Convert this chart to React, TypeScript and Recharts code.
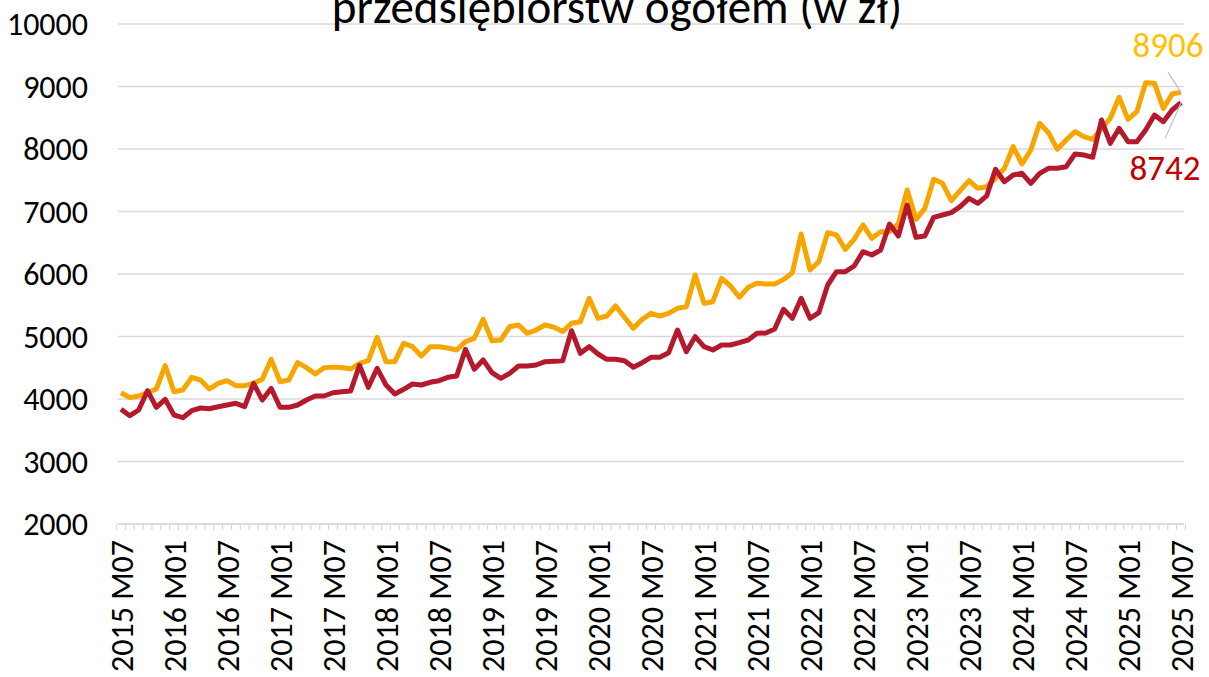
import React from 'react';
import { LineChart, Line, XAxis, YAxis, CartesianGrid, LabelList } from 'recharts';

const years = [2015, 2016, 2017, 2018, 2019, 2020, 2021, 2022, 2023, 2024, 2025];
const monthCodes = ['M01', 'M02', 'M03', 'M04', 'M05', 'M06', 'M07', 'M08', 'M09', 'M10', 'M11', 'M12'];

const categories: string[] = [];
years.forEach((yr) => {
  monthCodes.forEach((m, mi) => {
    const idx = (yr - 2015) * 12 + mi;
    if (idx >= 6 && idx <= 126) categories.push(`${yr} ${m}`);
  });
});

const tickLabels = [
  '2015 M07', '2016 M01', '2016 M07', '2017 M01', '2017 M07', '2018 M01', '2018 M07',
  '2019 M01', '2019 M07', '2020 M01', '2020 M07', '2021 M01', '2021 M07', '2022 M01',
  '2022 M07', '2023 M01', '2023 M07', '2024 M01', '2024 M07', '2025 M01', '2025 M07',
];

const yTicks = [2000, 3000, 4000, 5000, 6000, 7000, 8000, 9000, 10000];

const sectorTotal = [
  4100, 4021, 4048, 4101, 4160, 4535, 4117, 4144, 4347, 4304, 4160, 4251,
  4293, 4213, 4213, 4251, 4315, 4635, 4277, 4304, 4581, 4501, 4400, 4501,
  4510, 4505, 4480, 4571, 4613, 4987, 4597, 4597, 4891, 4837, 4688, 4837,
  4837, 4816, 4784, 4917, 4971, 5275, 4933, 4944, 5157, 5184, 5051, 5104,
  5184, 5150, 5080, 5211, 5237, 5611, 5291, 5328, 5488, 5307, 5131, 5275,
  5371, 5328, 5371, 5451, 5477, 5984, 5531, 5557, 5931, 5808, 5627, 5787,
  5851, 5840, 5840, 5910, 6021, 6640, 6064, 6197, 6661, 6624, 6395, 6555,
  6784, 6571, 6677, 6677, 6800, 7344, 6875, 7051, 7515, 7451, 7173, 7333,
  7493, 7371, 7397, 7531, 7690, 8037, 7760, 7984, 8411, 8261, 7995, 8144,
  8277, 8197, 8155, 8331, 8491, 8827, 8475, 8597, 9061, 9051, 8651, 8880,
  8906,
];

const sectorOther = [
  3835, 3733, 3824, 4133, 3867, 3995, 3744, 3701, 3813, 3856, 3845, 3877,
  3904, 3931, 3877, 4251, 3984, 4171, 3867, 3867, 3904, 3984, 4048, 4048,
  4100, 4117, 4128, 4540, 4187, 4491, 4224, 4080, 4155, 4240, 4224, 4267,
  4293, 4347, 4368, 4795, 4475, 4624, 4421, 4331, 4411, 4528, 4528, 4544,
  4597, 4605, 4610, 5093, 4731, 4837, 4720, 4635, 4635, 4613, 4507, 4581,
  4667, 4667, 4741, 5104, 4757, 4997, 4837, 4784, 4864, 4864, 4901, 4944,
  5051, 5056, 5120, 5435, 5291, 5611, 5291, 5381, 5824, 6037, 6037, 6128,
  6357, 6304, 6384, 6800, 6608, 7104, 6587, 6608, 6907, 6944, 6981, 7077,
  7211, 7131, 7250, 7675, 7477, 7584, 7611, 7451, 7611, 7691, 7691, 7717,
  7920, 7904, 7867, 8464, 8091, 8331, 8117, 8117, 8304, 8544, 8437, 8624,
  8742,
];

const data = categories.map((c, i) => ({ label: c, total: sectorTotal[i], other: sectorOther[i] }));

const FONT = 'Calibri, Carlito, Lato, sans-serif';
const ORANGE = '#F7A600';
const RED = '#B51A2C';
const HALF = 4.4;
const LAST = categories.length - 1;

function XTick(props: any) {
  const { x, y, payload, index } = props;
  const label = payload.value as string;
  const idx = payload.index ?? index;
  const show = tickLabels.includes(label);
  return (
    <g>
      <line x1={x - HALF} x2={x - HALF} y1={y} y2={y + 6} stroke="#d9d9d9" strokeWidth={1.2} />
      {idx === LAST && (
        <line x1={x + HALF} x2={x + HALF} y1={y} y2={y + 6} stroke="#d9d9d9" strokeWidth={1.2} />
      )}
      {show && (
        <text
          x={x}
          y={y + 16}
          dy="0.36em"
          transform={`rotate(-90, ${x}, ${y + 16})`}
          textAnchor="end"
          fontSize={32}
          fontFamily={FONT}
          fill="#000"
        >
          {label}
        </text>
      )}
    </g>
  );
}

function makeEndLabel(color: string, lineColor: string, dx: number, dy: number, lx: number, ly: number) {
  return (props: any) => {
    const { x, y, value, index } = props;
    if (index !== LAST) return null;
    return (
      <g>
        <line x1={x} y1={y} x2={x + lx} y2={y + ly} stroke={lineColor} strokeWidth={1.2} />
        <text x={x + dx} y={y + dy} textAnchor="middle" fontSize={35} fontFamily={FONT} fill={color}>
          {value}
        </text>
      </g>
    );
  };
}

export default function App() {
  return (
    <div style={{ position: 'absolute', left: 0, top: 0, width: 1209, height: 677, background: '#fff' }}>
      <LineChart
        width={1209}
        height={677}
        data={data}
        margin={{ top: 24, right: 25, left: 0, bottom: 0 }}
      >
        <CartesianGrid horizontal vertical={false} stroke="#d9d9d9" strokeWidth={1.5} />
        <XAxis
          dataKey="label"
          interval={0}
          height={153}
          tick={<XTick />}
          tickLine={false}
          tickSize={0}
          tickMargin={0}
          axisLine={{ stroke: '#d9d9d9', strokeWidth: 1.5 }}
          padding={{ left: 3, right: 3 }}
        />
        <YAxis
          domain={[2000, 10000]}
          ticks={yTicks}
          width={118}
          axisLine={false}
          tickLine={false}
          tickSize={0}
          tickMargin={30}
          tick={{ fontSize: 32, fontFamily: FONT, fill: '#000' }}
          allowDataOverflow
        />
        <Line
          type="linear"
          dataKey="total"
          stroke={ORANGE}
          strokeWidth={5}
          dot={false}
          isAnimationActive={false}
          strokeLinejoin="round"
        >
          <LabelList dataKey="total" content={makeEndLabel('#FFC000', '#bfbfbf', -13, -35, -13, -20)} />
        </Line>
        <Line
          type="linear"
          dataKey="other"
          stroke={RED}
          strokeWidth={5}
          dot={false}
          isAnimationActive={false}
          strokeLinejoin="round"
        >
          <LabelList dataKey="other" content={makeEndLabel('#C00000', '#bfbfbf', -16, 77, -16, 36)} />
        </Line>
      </LineChart>
      <svg
        width={1209}
        height={677}
        style={{ position: 'absolute', left: 0, top: 0, pointerEvents: 'none' }}
      >
        <text x={617} y={23} textAnchor="middle" fontSize={47} fontFamily={FONT} fill="#000">
          przedsiębiorstw ogółem (w zł)
        </text>
      </svg>
    </div>
  );
}
